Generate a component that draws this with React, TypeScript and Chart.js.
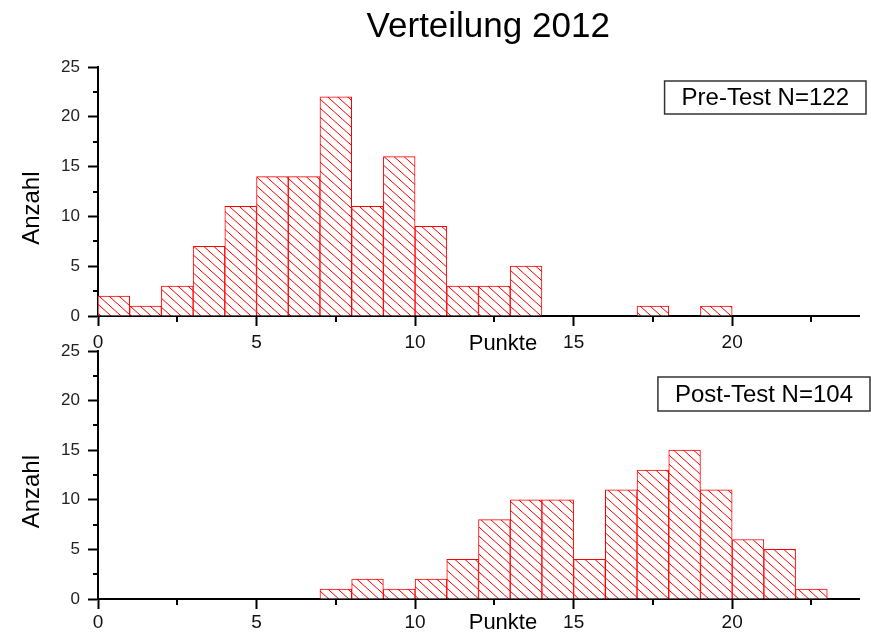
import React, { useEffect, useRef } from 'react';
import { Chart, registerables } from 'chart.js';

Chart.register(...registerables);

const TITLE = 'Verteilung 2012';
const X_TITLE = 'Punkte';
const Y_TITLE = 'Anzahl';
const PRE_LABEL = 'Pre-Test N=122';
const POST_LABEL = 'Post-Test N=104';

// bin start (Punkte) and counts (Anzahl)
const preBins = [0, 1, 2, 3, 4, 5, 6, 7, 8, 9, 10, 11, 12, 13, 14, 15, 16, 17, 18, 19];
const preCounts = [2, 1, 3, 7, 11, 14, 14, 22, 11, 16, 9, 3, 3, 5, 0, 0, 0, 1, 0, 1];

const postBins = [7, 8, 9, 10, 11, 12, 13, 14, 15, 16, 17, 18, 19, 20, 21, 22];
const postCounts = [1, 2, 1, 2, 4, 8, 10, 10, 4, 11, 13, 15, 11, 6, 5, 1];

const xTicks = [0, 5, 10, 15, 20];
const xMinor = [2.5, 7.5, 12.5, 17.5, 22.5];
const yTicks = [0, 5, 10, 15, 20, 25];
const yMinor = [2.5, 7.5, 12.5, 17.5, 22.5];
const X_MIN = 0;
const X_MAX = 24;
const Y_MIN = 0;
const Y_MAX = 25;

const FONT = "'Liberation Sans', Arial, sans-serif";
const NB = '\u00A0';

function makeHatch(): CanvasPattern | string {
  const w = 10;
  const h = 9;
  const c = document.createElement('canvas');
  c.width = w;
  c.height = h;
  const g = c.getContext('2d');
  if (!g) return '#fff';
  g.fillStyle = '#ffffff';
  g.fillRect(0, 0, w, h);
  g.strokeStyle = '#ff0000';
  g.lineWidth = 1;
  g.beginPath();
  const offs = [[0, 0], [w, 0], [0, h], [-w, 0], [0, -h]];
  for (const [ox, oy] of offs) {
    g.moveTo(ox - w, oy - h);
    g.lineTo(ox + 2 * w, oy + 2 * h);
  }
  g.stroke();
  return g.createPattern(c, 'repeat') || '#fff';
}

const minorTicksPlugin = {
  id: 'minorTicks',
  afterDraw(chart: any) {
    const { ctx, chartArea, scales } = chart;
    ctx.save();
    ctx.strokeStyle = '#000';
    ctx.lineWidth = 2;
    ctx.beginPath();
    for (const v of xMinor) {
      const px = Math.round(scales.x.getPixelForValue(v));
      ctx.moveTo(px, chartArea.bottom);
      ctx.lineTo(px, chartArea.bottom + 6);
    }
    for (const v of yMinor) {
      const py = Math.round(scales.y.getPixelForValue(v));
      ctx.moveTo(chartArea.left, py);
      ctx.lineTo(chartArea.left - 5, py);
    }
    ctx.stroke();
    ctx.restore();
  },
};

const labelBoxPlugin = {
  id: 'labelBox',
  afterDraw(chart: any, _args: any, opts: any) {
    if (!opts || !opts.text) return;
    const { ctx, chartArea } = chart;
    ctx.save();
    ctx.font = `24px ${FONT}`;
    const w = ctx.measureText(opts.text).width + 2 * opts.padX;
    const right = chartArea.right + opts.dx;
    const top = chartArea.top + opts.dy;
    const left = right - w;
    ctx.fillStyle = '#fff';
    ctx.fillRect(left, top, w, opts.h);
    ctx.strokeStyle = '#333';
    ctx.lineWidth = 1.5;
    ctx.strokeRect(left, top, w, opts.h);
    ctx.fillStyle = '#000';
    ctx.textAlign = 'center';
    ctx.textBaseline = 'middle';
    ctx.fillText(opts.text, left + w / 2, top + opts.h / 2 + 1);
    ctx.restore();
  },
};

interface PanelOpts {
  bins: number[];
  counts: number[];
  label: string;
  showTitle: boolean;
  layoutTop: number;
  xHeight: number;
  xTickPad: number;
  xTitlePadB: number;
  boxDx: number;
  boxDy: number;
  boxH: number;
}

function buildChart(canvas: HTMLCanvasElement, p: PanelOpts, pattern: CanvasPattern | string) {
  const data = p.bins.map((b, i) => ({ x: b + 0.5, y: p.counts[i] }));
  return new Chart(canvas, {
    type: 'bar',
    data: {
      datasets: [
        {
          data: data as any,
          backgroundColor: pattern as any,
          borderColor: '#ff0000',
          borderWidth: 1,
          barPercentage: 1,
          categoryPercentage: 1,
        },
      ],
    },
    plugins: [minorTicksPlugin, labelBoxPlugin],
    options: {
      responsive: false,
      animation: false,
      devicePixelRatio: 1,
      layout: { padding: { left: 0, right: 12, top: p.layoutTop, bottom: 0 } },
      plugins: {
        legend: { display: false },
        tooltip: { enabled: false },
        title: {
          display: p.showTitle,
          text: NB + NB + TITLE,
          fullSize: false,
          color: '#000',
          font: { family: FONT, size: 35, weight: 'normal' },
          padding: { top: 6, bottom: 19 },
        },
        labelBox: { text: p.label, dx: p.boxDx, dy: p.boxDy, h: p.boxH, padX: 17 },
      } as any,
      scales: {
        x: {
          type: 'linear',
          min: X_MIN,
          max: X_MAX,
          offset: false,
          afterBuildTicks: (s: any) => {
            s.ticks = xTicks.map((v) => ({ value: v }));
          },
          afterFit: (s: any) => {
            s.height = p.xHeight;
          },
          ticks: {
            color: '#111',
            font: { family: FONT, size: 19 },
            padding: p.xTickPad,
            maxRotation: 0,
            autoSkip: false,
          },
          grid: {
            offset: false,
            drawOnChartArea: false,
            drawTicks: true,
            tickLength: 10,
            tickWidth: 2,
            tickColor: '#000',
          },
          border: { display: true, color: '#000', width: 2 },
          title: {
            display: true,
            text: NB.repeat(8) + X_TITLE,
            color: '#000',
            font: { family: FONT, size: 22 },
            padding: { top: 0, bottom: p.xTitlePadB },
          },
        },
        y: {
          type: 'linear',
          min: Y_MIN,
          max: Y_MAX,
          afterBuildTicks: (s: any) => {
            s.ticks = yTicks.map((v) => ({ value: v }));
          },
          afterFit: (s: any) => {
            s.width = 98;
          },
          ticks: {
            color: '#222',
            font: { family: FONT, size: 17 },
            padding: 8,
          },
          grid: {
            drawOnChartArea: false,
            drawTicks: true,
            tickLength: 10,
            tickWidth: 2,
            tickColor: '#000',
          },
          border: { display: true, color: '#000', width: 2 },
          title: {
            display: true,
            text: Y_TITLE + NB.repeat(5),
            color: '#000',
            font: { family: FONT, size: 24 },
            padding: { top: 18, bottom: 0 },
          },
        },
      },
    } as any,
  });
}

export default function App() {
  const topRef = useRef<HTMLCanvasElement>(null);
  const botRef = useRef<HTMLCanvasElement>(null);

  useEffect(() => {
    const pattern = makeHatch();
    const charts: Chart[] = [];
    if (topRef.current) {
      charts.push(
        buildChart(
          topRef.current,
          {
            bins: preBins,
            counts: preCounts,
            label: PRE_LABEL,
            showTitle: true,
            layoutTop: 0,
            xHeight: 44,
            xTickPad: 5,
            xTitlePadB: 3,
            boxDx: 7,
            boxDy: 14,
            boxH: 33,
          },
          pattern
        )
      );
    }
    if (botRef.current) {
      charts.push(
        buildChart(
          botRef.current,
          {
            bins: postBins,
            counts: postCounts,
            label: POST_LABEL,
            showTitle: false,
            layoutTop: 21,
            xHeight: 38,
            xTickPad: 2,
            xTitlePadB: 1,
            boxDx: 11,
            boxDy: 26,
            boxH: 34,
          },
          pattern
        )
      );
    }
    return () => {
      charts.forEach((c) => c.destroy());
    };
  }, []);

  return (
    <div>
      <canvas
        ref={topRef}
        width={871}
        height={360}
        style={{ position: 'absolute', left: 0, top: 0, width: 871, height: 360 }}
      />
      <canvas
        ref={botRef}
        width={871}
        height={307}
        style={{ position: 'absolute', left: 0, top: 330, width: 871, height: 307 }}
      />
    </div>
  );
}
